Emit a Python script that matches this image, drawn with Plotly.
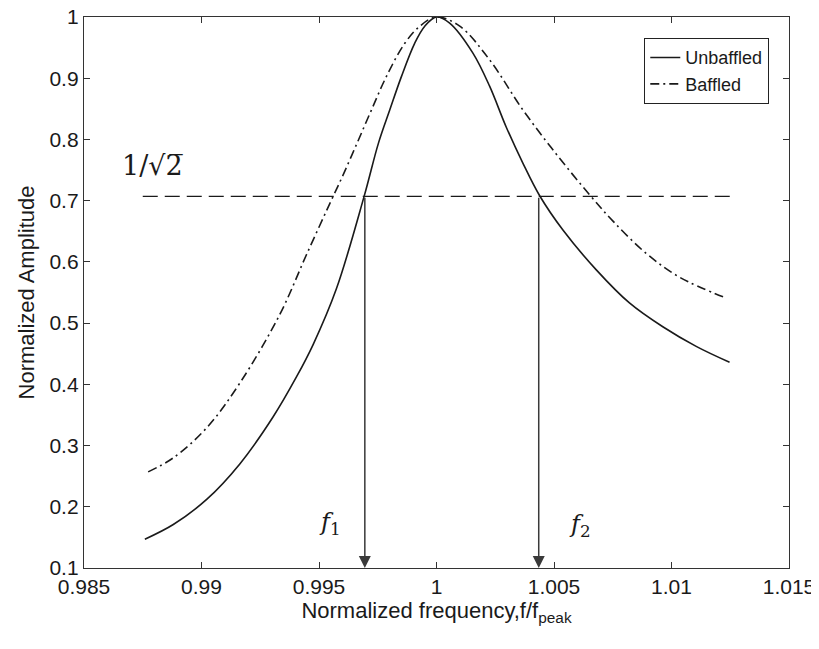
import plotly.graph_objects as go

# ---- data ----
unbaffled_x = [0.98759, 0.98880, 0.99022, 0.99163, 0.99305, 0.99404, 0.99475, 0.99574,
               0.99692, 0.99753, 0.99801, 0.99851, 0.99907, 0.99950, 1.00000, 1.00056,
               1.00155, 1.00226, 1.00297, 1.00368, 1.00439, 1.00538, 1.00680, 1.00821,
               1.00963, 1.01105, 1.01247]
unbaffled_y = [0.147, 0.171, 0.212, 0.270, 0.347, 0.412, 0.465, 0.556,
               0.707, 0.794, 0.848, 0.903, 0.957, 0.985, 1.000, 0.990,
               0.941, 0.887, 0.820, 0.761, 0.708, 0.652, 0.587, 0.533,
               0.494, 0.462, 0.436]

baffled_x = [0.98773, 0.98880, 0.99022, 0.99163, 0.99333, 0.99447, 0.99560, 0.99599,
             0.99662, 0.99723, 0.99787, 0.99865, 0.99929, 1.00000, 1.00099, 1.00226,
             1.00368, 1.00510, 1.00655, 1.00750, 1.00892, 1.01034, 1.01233]
baffled_y = [0.257, 0.280, 0.329, 0.402, 0.514, 0.612, 0.707, 0.739,
             0.794, 0.848, 0.903, 0.957, 0.985, 1.000, 0.985, 0.930,
             0.848, 0.776, 0.708, 0.667, 0.614, 0.575, 0.541]

half_power_x = [0.9875, 1.0125]
half_power_level = 0.7071
f_markers = [0.99695, 1.00435]
f_labels = ["<i>f</i><sub>1</sub>", "<i>f</i><sub>2</sub>"]
f_label_x = [0.99546, 1.00609]
f_label_y = [0.172, 0.170]

x_ticks = [0.985, 0.99, 0.995, 1.0, 1.005, 1.01, 1.015]
x_ticktext = ["0.985", "0.99", "0.995", "1", "1.005", "1.01", "1.015"]
y_ticks = [0.1, 0.2, 0.3, 0.4, 0.5, 0.6, 0.7, 0.8, 0.9, 1.0]
y_ticktext = ["0.1", "0.2", "0.3", "0.4", "0.5", "0.6", "0.7", "0.8", "0.9", "1"]

SANS = "Liberation Sans, Arial, sans-serif"
SERIF = "DejaVu Serif, Liberation Serif, serif"
INK = "#1a1a1a"

fig = go.Figure()
fig.add_trace(go.Scatter(x=unbaffled_x, y=unbaffled_y, mode="lines", name="Unbaffled",
                         line=dict(color=INK, width=1.6, shape="spline", smoothing=1.0)))
fig.add_trace(go.Scatter(x=baffled_x, y=baffled_y, mode="lines", name="Baffled",
                         line=dict(color=INK, width=1.6, dash="9px,4px,2px,4px",
                                   shape="spline", smoothing=1.0)))
fig.add_trace(go.Scatter(x=half_power_x, y=[half_power_level] * 2, mode="lines",
                         showlegend=False,
                         line=dict(color=INK, width=1.3, dash="15px,7px")))

for fx in f_markers:
    fig.add_annotation(x=fx, y=0.1, ax=fx, ay=half_power_level, xref="x", yref="y",
                       axref="x", ayref="y", text="", showarrow=True,
                       arrowhead=2, arrowsize=1.6, arrowwidth=1.5, arrowcolor="#3a3a3a",
                       standoff=0)

for tx, ty, t in zip(f_label_x, f_label_y, f_labels):
    fig.add_annotation(x=tx, y=ty, text=t, showarrow=False,
                       font=dict(family=SERIF, size=24, color=INK))

fig.add_annotation(x=0.98790, y=0.757, text="1/√2\u0305", showarrow=False,
                   font=dict(family=SERIF, size=27, color=INK))

axis_common = dict(showline=True, linecolor="#333333", linewidth=1.3, mirror="ticks",
                   ticks="inside", ticklen=6, tickcolor="#333333", tickwidth=1.3,
                   showgrid=False, zeroline=False, automargin=False,
                   ticklabeloverflow="allow",
                   tickfont=dict(family=SANS, size=21, color=INK))

fig.update_xaxes(range=[0.985, 1.015], tickvals=x_ticks, ticktext=x_ticktext,
                 title=dict(text="Normalized frequency,f/f<sub>peak</sub>",
                            font=dict(family=SANS, size=22, color=INK), standoff=4),
                 **axis_common)
fig.update_yaxes(range=[0.1, 1.0], tickvals=y_ticks, ticktext=y_ticktext,
                 title=dict(text="Normalized Amplitude",
                            font=dict(family=SANS, size=22, color=INK), standoff=8),
                 **axis_common)

# page body has an 8px default margin, so the figure is sized/offset for it
fig.update_layout(
    width=811, height=641,
    margin=dict(l=76, r=30, t=9, b=81),
    plot_bgcolor="white", paper_bgcolor="white",
    legend=dict(x=0.9716, y=0.962, xanchor="right", yanchor="top",
                bordercolor="#222222", borderwidth=1.3, bgcolor="white",
                font=dict(family=SANS, size=18, color=INK),
                tracegroupgap=0),
)

fig.write_html("out.html")
